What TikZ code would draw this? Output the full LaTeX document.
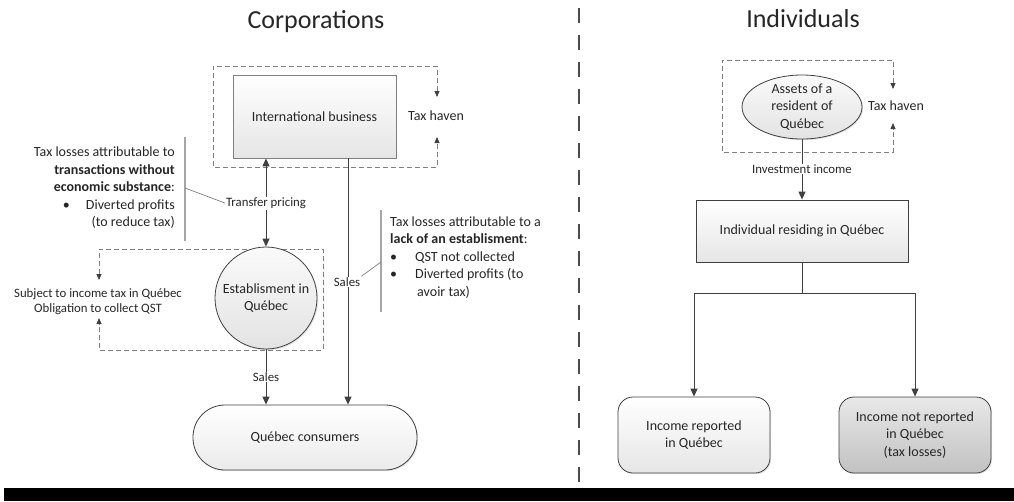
\documentclass[tikz,border=0pt]{standalone}
\usepackage{fontspec}
\setmainfont{Carlito}
\usetikzlibrary{arrows.meta,shapes.geometric,shadows}

\newcommand\txtbody{\fontsize{14}{17.5}\selectfont}
\newcommand\txtsmall{\fontsize{12.8}{15}\selectfont}
\newcommand\txttitle{\fontsize{26}{30}\selectfont}

\definecolor{inkc}{HTML}{262626}
\definecolor{linec}{HTML}{404040}
\definecolor{framec}{HTML}{7F7F7F}
\definecolor{barc}{HTML}{A6A6A6}

\begin{document}
\begin{tikzpicture}[x=1pt,y=-1pt,
  every node/.style={text=inkc},
  softshadow/.style={drop shadow={shadow xshift=1.2pt,shadow yshift=-1.2pt,opacity=0.22}},
  boxnode/.style={draw=framec, line width=0.8pt, top color=white, bottom color=black!10,
    softshadow, font=\txtbody, align=center, inner sep=2pt},
  roundnode/.style={boxnode, draw=linec},
  arr/.style={draw=linec, line width=0.9pt, -{Triangle[length=8pt,width=7pt]}},
  dblarr/.style={draw=linec, line width=0.9pt, {Triangle[length=8pt,width=7pt]}-{Triangle[length=8pt,width=7pt]}},
  frame/.style={draw=framec, line width=0.8pt, dash pattern=on 5pt off 3pt,
    {Triangle[length=6pt,width=5pt,color=linec]}-{Triangle[length=6pt,width=5pt,color=linec]}},
  lbl/.style={fill=white, font=\txtsmall, inner sep=1pt},
  notebar/.style={draw=barc, line width=2pt},
  pointer/.style={draw=framec, line width=0.7pt},
  titletext/.style={font=\txttitle, anchor=base},
]
\useasboundingbox (0,0) rectangle (1014,501);

% ---------- titles ----------
\node[titletext] (tcorp) at (316,28) {Corporations};
\node[titletext] (tind) at (803,27) {Individuals};

% ---------- dashed jurisdiction frames ----------
\draw[frame] (437,97) -- (437,66) -- (213,66) -- (213,167) -- (437,167) -- (437,137);
\draw[frame] (99,280) -- (99,249) -- (323,249) -- (323,350) -- (99,350) -- (99,318);
\draw[frame] (893,89) -- (893,60) -- (722,60) -- (722,152) -- (893,152) -- (893,123);

\node[font=\txtbody] (havenA) at (436,116) {Tax haven};
\node[font=\txtsmall, align=center] (obl) at (98,302)
  {Subject to income tax in Québec\\Obligation to collect QST};
\node[font=\txtbody] (havenB) at (896,106) {Tax haven};

% ---------- corporations ----------
\node[boxnode, minimum width=163pt, minimum height=83pt] (ib) at (314.5,116.5) {International business};
\node[boxnode, circle, draw=linec, top color=black!2, bottom color=black!11,
      minimum size=102pt, inner sep=0pt] (est) at (266,298) {Establisment in\\Québec};
\node[roundnode, rounded corners=32pt, minimum width=224pt, minimum height=65pt,
      bottom color=black!8] (cons) at (305,437.5) {Québec consumers};

\draw[dblarr] (est.north |- ib.south) -- (est.north);
\draw[arr] (est.south) -- (est.south |- cons.north);
\coordinate (ibout) at ([xshift=33.5pt]ib.south);
\draw[arr] (ibout) -- (ibout |- cons.north);

\node[lbl] (tp) at (266,203) {Transfer pricing};
\node[lbl] (salesA) at (347,282) {Sales};
\node[lbl] (salesB) at (266,377) {Sales};

% side notes
\draw[notebar] (185,137) -- (185,241);
\draw[notebar] (381,210) -- (381,312);
\coordinate (barL) at (185,188);
\coordinate (barR) at (381,262);
\draw[pointer] (barL) -- (tp.west);
\draw[pointer] (barR) -- (salesA.north east);

\node[font=\txtbody, align=right, anchor=east, inner sep=0pt] (noteL) at (175,188)
  {Tax losses attributable to\\
   \textbf{transactions without}\\
   \textbf{economic substance}:\\
   \makebox[23pt][l]{\textbullet}Diverted profits\\
   (to reduce tax)};
\node[font=\txtbody, align=left, anchor=west, inner sep=0pt] (noteR) at (390,257.5)
  {Tax losses attributable to a\\
   \textbf{lack of an establisment}:\\
   \makebox[25pt][l]{\textbullet}QST not collected\\
   \makebox[25pt][l]{\textbullet}Diverted profits (to\\
   \hspace*{27pt}avoir tax)};

% ---------- individuals ----------
\node[boxnode, ellipse, draw=linec, top color=black!2, bottom color=black!11,
      minimum width=120pt, minimum height=64pt, inner sep=0pt] (assets) at (802,107) {};
\node[font=\txtbody, align=center, inner sep=0pt] (assetstxt) at (assets.center)
  {Assets of a\\resident of\\Québec};
\node[boxnode, draw=linec, minimum width=212pt, minimum height=62pt] (ind) at (802,231)
  {Individual residing in Québec};
\node[roundnode, rounded corners=15pt, minimum width=152pt, minimum height=76pt] (rep) at (694,435)
  {Income reported\\in Québec};
\node[roundnode, rounded corners=15pt, minimum width=152pt, minimum height=76pt,
      top color=black!9, bottom color=black!24] (notrep) at (915,435)
  {Income not reported\\in Québec\\(tax losses)};

\draw[arr] (assets.south) -- (ind.north);
\node[lbl] (invinc) at (802,169) {Investment income};
\draw[arr] (ind.south) -- ++(0,31) -| (rep.north);
\draw[arr] (ind.south) -- ++(0,31) -| (notrep.north);

% ---------- divider and footer rule ----------
\draw[draw=black!70, line width=2.5pt, dash pattern=on 15pt off 12pt] (579,8) -- (579,486);
\fill[black] (4,488) rectangle (1014,501);
\end{tikzpicture}
\end{document}
